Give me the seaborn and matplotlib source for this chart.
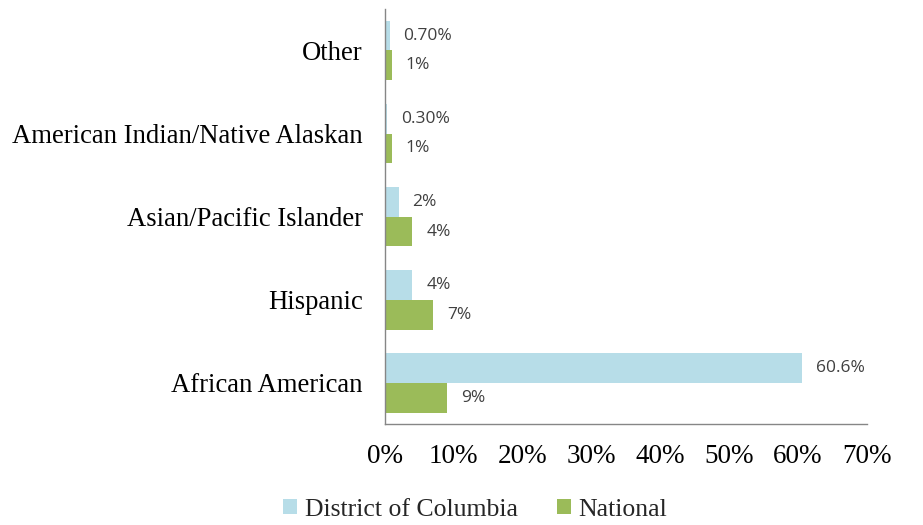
import pandas as pd
import matplotlib.pyplot as plt
import seaborn as sns

categories = ["Other", "American Indian/Native Alaskan", "Asian/Pacific Islander",
              "Hispanic", "African American"]
dc_values = [0.7, 0.3, 2, 4, 60.6]
national_values = [1, 1, 4, 7, 9]
dc_labels = ["0.70%", "0.30%", "2%", "4%", "60.6%"]
national_labels = ["1%", "1%", "4%", "7%", "9%"]
series = ["District of Columbia", "National"]
colors = ["#B7DDE8", "#9BBB59"]

df = pd.DataFrame({
    "category": categories * 2,
    "value": dc_values + national_values,
    "series": [series[0]] * len(categories) + [series[1]] * len(categories),
})

sns.set_style("white")
plt.rcParams["font.family"] = ["Liberation Serif", "DejaVu Serif"]

fig = plt.figure(figsize=(9.23, 5.25), dpi=100)
ax = fig.add_axes([0.417, 0.192, 0.522, 0.791])

sns.barplot(data=df, x="value", y="category", hue="series", order=categories,
            hue_order=series, palette=colors, orient="h", width=0.72,
            saturation=1, linewidth=0, ax=ax, legend=True)

for cont, labels in zip(ax.containers, [dc_labels, national_labels]):
    ax.bar_label(cont, labels=labels, padding=10, fontsize=12.5, color="#404040",
                 family=["Open Sans", "DejaVu Sans"])

ax.set_xlim(0, 70)
ax.set_xticks(range(0, 71, 10))
ax.set_xticklabels([f"{t}%" for t in range(0, 71, 10)])
ax.tick_params(axis="x", labelsize=19.5, length=0, colors="black", pad=14)
ax.tick_params(axis="y", labelsize=19.2, length=0, colors="black", pad=16)
ax.set_xlabel("")
ax.set_ylabel("")
for side in ["top", "right"]:
    ax.spines[side].set_visible(False)
for side in ["left", "bottom"]:
    ax.spines[side].set_color("#868686")
    ax.spines[side].set_linewidth(1)

handles, labels = ax.get_legend_handles_labels()
ax.get_legend().remove()
fig.legend(handles, labels, loc="center", bbox_to_anchor=(0.515, 0.029),
           ncol=2, frameon=False, fontsize=18.5, handlelength=0.55, handleheight=0.55,
           handletextpad=0.3, columnspacing=1.5)

fig.savefig("out.png", dpi=100)
